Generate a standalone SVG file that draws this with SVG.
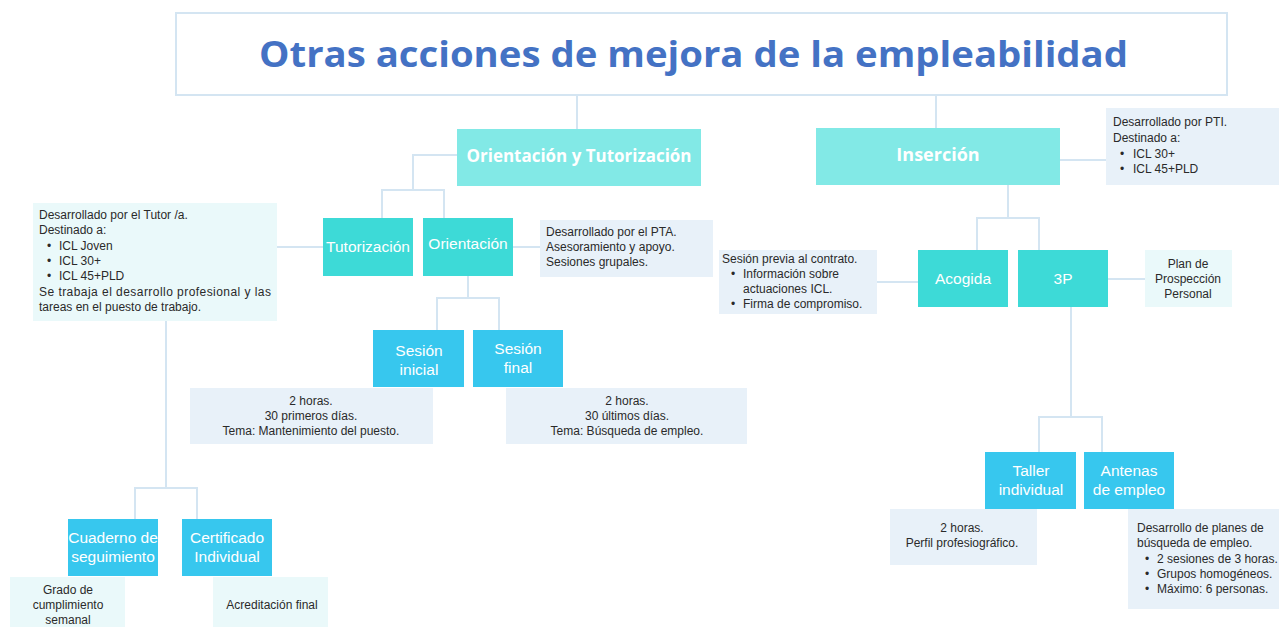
<svg xmlns="http://www.w3.org/2000/svg" width="1279" height="627" viewBox="0 0 1279 627">
<style>
.conn{stroke:#d4e5f2;stroke-width:2;fill:none}
.l1{fill:#82e9e6}
.l2{fill:#3ddad7}
.l3{fill:#37c7ee}
.ib{fill:#e8f1f9}
.ic{fill:#eaf9fa}
.hd{font-family:"Open Sans","Liberation Sans",sans-serif;font-weight:bold;fill:#ffffff;text-anchor:middle}
.lb{font-family:"Liberation Sans",Arial,sans-serif;font-size:15.5px;fill:#ffffff;text-anchor:middle}
.tx{font-family:"Liberation Sans",Arial,sans-serif;font-size:12px;fill:#2a2a2a}
.tc{text-anchor:middle}
</style>
<rect width="1279" height="627" fill="#ffffff"/>
<g id="connectors">
<path class="conn" d="M577,95 V129"/>
<path class="conn" d="M936,95 V128"/>
<path class="conn" d="M457,155 H413 V190"/>
<path class="conn" d="M382,218 V190 H444 V218"/>
<path class="conn" d="M277,247 H323"/>
<path class="conn" d="M513,247 H540"/>
<path class="conn" d="M468,276 V298"/>
<path class="conn" d="M437,330 V298 H499 V330"/>
<path class="conn" d="M166,321 V488"/>
<path class="conn" d="M135,519 V488 H197 V519"/>
<path class="conn" d="M1060,160 H1106"/>
<path class="conn" d="M1008,185 V218"/>
<path class="conn" d="M977,250 V218 H1039 V250"/>
<path class="conn" d="M877,282 H918"/>
<path class="conn" d="M1108,279 H1145"/>
<path class="conn" d="M1071,307 V417"/>
<path class="conn" d="M1039,452 V417 H1102 V452"/>
</g>
<g id="title">
<rect x="176" y="13" width="1051" height="82" fill="#ffffff" stroke="#d4e5f2" stroke-width="2"/>
<text x="259" y="67" font-family="'Open Sans','Liberation Sans',sans-serif" font-weight="bold" font-size="36" fill="#4472c4" textLength="869" lengthAdjust="spacingAndGlyphs">Otras acciones de mejora de la empleabilidad</text>
</g>
<g id="orientacion-tutorizacion">
<rect class="l1" x="457" y="129" width="244" height="57"/>
<text class="hd" x="579" y="162" font-size="18" textLength="225" lengthAdjust="spacingAndGlyphs">Orientación y Tutorización</text>
</g>
<g id="insercion">
<rect class="l1" x="816" y="128" width="244" height="57"/>
<text class="hd" x="938" y="161" font-size="18">Inserción</text>
</g>
<g id="insercion-info">
<rect class="ib" x="1106" y="108" width="173" height="77"/>
<text class="tx" x="1113" y="126">Desarrollado por PTI.</text>
<text class="tx" x="1113" y="142">Destinado a:</text>
<text class="tx" x="1120" y="158">•</text>
<text class="tx" x="1133" y="158">ICL 30+</text>
<text class="tx" x="1120" y="173">•</text>
<text class="tx" x="1133" y="173">ICL 45+PLD</text>
</g>
<g id="tutorizacion">
<rect class="l2" x="323" y="218" width="90" height="58"/>
<text class="lb" x="368" y="252">Tutorización</text>
</g>
<g id="orientacion">
<rect class="l2" x="423" y="218" width="90" height="58"/>
<text class="lb" x="468" y="249">Orientación</text>
</g>
<g id="orientacion-info">
<rect class="ib" x="540" y="220" width="173" height="57"/>
<text class="tx" x="546" y="236">Desarrollado por el PTA.</text>
<text class="tx" x="546" y="251">Asesoramiento y apoyo.</text>
<text class="tx" x="546" y="266">Sesiones grupales.</text>
</g>
<g id="tutorizacion-info">
<rect class="ic" x="33" y="203" width="244" height="118"/>
<text class="tx" x="39" y="219">Desarrollado por  el Tutor /a.</text>
<text class="tx" x="39" y="234">Destinado a:</text>
<text class="tx" x="47" y="250">•</text>
<text class="tx" x="59" y="250">ICL Joven</text>
<text class="tx" x="47" y="265">•</text>
<text class="tx" x="59" y="265">ICL 30+</text>
<text class="tx" x="47" y="280">•</text>
<text class="tx" x="59" y="280">ICL 45+PLD</text>
<text class="tx" x="39" y="296" textLength="232" lengthAdjust="spacing">Se trabaja el desarrollo profesional y las</text>
<text class="tx" x="39" y="311">tareas en el puesto de trabajo.</text>
</g>
<g id="sesion-inicial">
<rect class="l3" x="373" y="330" width="91" height="57"/>
<text class="lb" x="419" y="356">Sesión</text>
<text class="lb" x="419" y="375">inicial</text>
</g>
<g id="sesion-final">
<rect class="l3" x="473" y="330" width="90" height="57"/>
<text class="lb" x="518" y="354">Sesión</text>
<text class="lb" x="518" y="373">final</text>
</g>
<g id="sesion-inicial-info">
<rect class="ib" x="190" y="388" width="243" height="56"/>
<text class="tx tc" x="311" y="405">2 horas.</text>
<text class="tx tc" x="311" y="420">30 primeros días.</text>
<text class="tx tc" x="311" y="435">Tema: Mantenimiento del puesto.</text>
</g>
<g id="sesion-final-info">
<rect class="ib" x="506" y="388" width="241" height="56"/>
<text class="tx tc" x="627" y="405">2 horas.</text>
<text class="tx tc" x="627" y="420">30 últimos días.</text>
<text class="tx tc" x="627" y="435">Tema: Búsqueda de empleo.</text>
</g>
<g id="cuaderno">
<rect class="l3" x="68" y="519" width="90" height="57"/>
<text class="lb" x="113" y="543">Cuaderno de</text>
<text class="lb" x="113" y="562">seguimiento</text>
</g>
<g id="certificado">
<rect class="l3" x="182" y="519" width="90" height="57"/>
<text class="lb" x="227" y="543">Certificado</text>
<text class="lb" x="227" y="562">Individual</text>
</g>
<g id="cuaderno-info">
<rect class="ic" x="10" y="577" width="115" height="50"/>
<text class="tx tc" x="68" y="594">Grado de</text>
<text class="tx tc" x="68" y="609">cumplimiento</text>
<text class="tx tc" x="68" y="624">semanal</text>
</g>
<g id="certificado-info">
<rect class="ic" x="213" y="577" width="115" height="50"/>
<text class="tx tc" x="272" y="609">Acreditación final</text>
</g>
<g id="acogida">
<rect class="l2" x="918" y="250" width="90" height="57"/>
<text class="lb" x="963" y="284">Acogida</text>
</g>
<g id="tresp">
<rect class="l2" x="1018" y="250" width="90" height="57"/>
<text class="lb" x="1063" y="284">3P</text>
</g>
<g id="acogida-info">
<rect class="ib" x="719" y="250" width="158" height="64"/>
<text class="tx" x="722" y="263">Sesión previa al contrato.</text>
<text class="tx" x="731" y="278">•</text>
<text class="tx" x="743" y="278">Información sobre</text>
<text class="tx" x="743" y="293">actuaciones ICL.</text>
<text class="tx" x="731" y="308">•</text>
<text class="tx" x="743" y="308">Firma de compromiso.</text>
</g>
<g id="tresp-info">
<rect class="ic" x="1145" y="250" width="87" height="57"/>
<text class="tx tc" x="1188" y="268">Plan de</text>
<text class="tx tc" x="1188" y="283">Prospección</text>
<text class="tx tc" x="1188" y="298">Personal</text>
</g>
<g id="taller">
<rect class="l3" x="985" y="452" width="91" height="57"/>
<text class="lb" x="1031" y="476">Taller</text>
<text class="lb" x="1031" y="495">individual</text>
</g>
<g id="antenas">
<rect class="l3" x="1084" y="452" width="90" height="57"/>
<text class="lb" x="1129" y="476">Antenas</text>
<text class="lb" x="1129" y="495">de empleo</text>
</g>
<g id="taller-info">
<rect class="ib" x="890" y="509" width="147" height="56"/>
<text class="tx tc" x="962" y="532">2 horas.</text>
<text class="tx tc" x="962" y="547">Perfil profesiográfico.</text>
</g>
<g id="antenas-info">
<rect class="ib" x="1128" y="509" width="151" height="100"/>
<text class="tx" x="1137" y="532">Desarrollo de planes de</text>
<text class="tx" x="1137" y="547">búsqueda de empleo.</text>
<text class="tx" x="1145" y="563">•</text>
<text class="tx" x="1157" y="563">2 sesiones de 3 horas.</text>
<text class="tx" x="1145" y="578">•</text>
<text class="tx" x="1157" y="578">Grupos homogéneos.</text>
<text class="tx" x="1145" y="593">•</text>
<text class="tx" x="1157" y="593">Máximo: 6 personas.</text>
</g>
</svg>
